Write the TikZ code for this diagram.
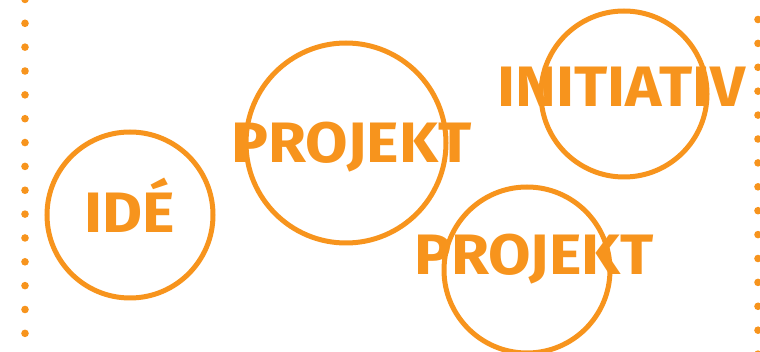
\documentclass[tikz,border=0pt]{standalone}
\usepackage{fontspec}
\setmainfont{Fira Sans}
\usepackage{xcolor}
\definecolor{orng}{HTML}{F7941D}
\tikzset{
    ring/.style={draw=orng, line width=5pt},
    word/.style={text=orng, font=\fontsize{57}{57}\selectfont\bfseries, inner sep=0pt, anchor=base, xscale=1.08},
    spot/.style={fill=orng}
}

\begin{document}
\begin{tikzpicture}[x=1pt, y=-1pt]
    \useasboundingbox (0,0) rectangle (760,352);
    % dotted side lines
    \foreach \k in {-1,...,15} {
        \fill[spot] (25,23.3+23.85*\k) circle (3.8);
        \fill[spot] (758,19.5+23.9*\k) circle (3.8);
    }

    \coordinate (c_1) at (130,215);
    \coordinate (c_2) at (346,143);
    \coordinate (c_3) at (624,94);
    \coordinate (c_4) at (527,270);
    \draw[ring] (c_1) circle (83);
    \draw[ring] (c_2) circle (100);
    \draw[ring] (c_3) circle (83);
    \draw[ring] (c_4) circle (83);

    \node[word] (ide) at (130,233) {IDÉ};
    \node[word] (projekt_1) at (351.5,163) {PROJEKT};
    \node[word] (initiativ) at (621.5,107) {INITIATIV};
    \node[word] (projekt_2) at (534,275) {PROJEKT};
    \end{tikzpicture}
\end{document}
